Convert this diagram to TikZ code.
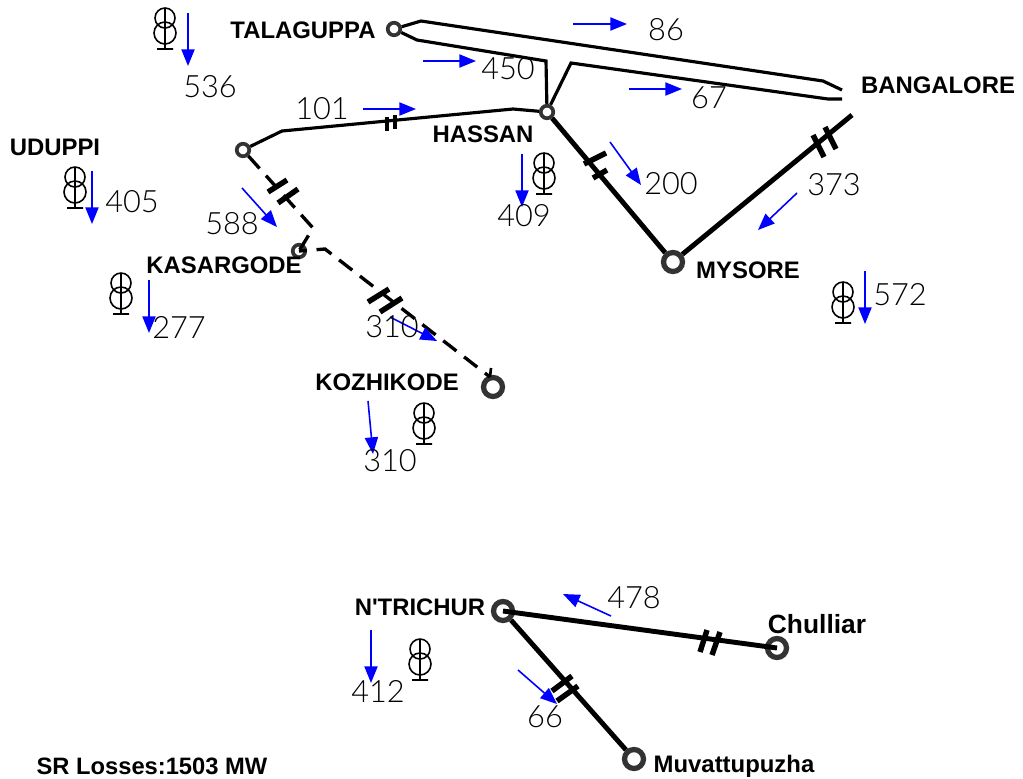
\documentclass[tikz,border=0pt]{standalone}
\usepackage{fontspec}
\setmainfont{Liberation Sans}
\newfontfamily\labfont{Liberation Sans}
\newfontfamily\numfont{Lato Light}
\usetikzlibrary{arrows.meta}
\tikzset{
  bus/.style={circle,inner sep=0pt,minimum size=.25cm,line width=2.1pt,draw=black!80,fill=white},
  bigbus/.style={bus,minimum size=.38cm,line width=3pt},
  line/.style={line width=1.8pt},
  heavy/.style={line width=2.8pt},
  dashline/.style={line width=1.9pt,dash pattern=on 9.5pt off 5.5pt},
  tick/.style={line width=3.1pt},
  flow/.style={blue,line width=.9pt,-{Triangle[length=9.5pt,width=7.5pt]}},
  lab/.style={font=\labfont\bfseries\fontsize{13.6}{15}\selectfont,inner sep=0pt},
  num/.style={font=\numfont\fontsize{17.5}{20}\selectfont,inner sep=0pt},
  xfmr/.pic={\draw[line width=.9pt](0,-41)--(0,0)(-8,0)--(8,0)(0,-16)circle[radius=11](0,-31)circle[radius=10];}
}
\begin{document}
\begin{tikzpicture}[x=.02cm,y=-.02cm]
\useasboundingbox(0,0)rectangle(1023,778);
% buses
\node[bus](talaguppa)at(394,29){};
\node[bus](hassan)at(547,112){};
\node[bus](uduppi)at(243,150){};
\node[bus](kasargode)at(299,251){};
\node[bigbus](mysore)at(673,262){};
\node[bigbus](kozhikode)at(493,387){};
\node[bigbus](trichur)at(503,611){};
\node[bigbus](chulliar)at(777,648){};
\node[bigbus](muvatt)at(634,759){};
\coordinate(bangtop)at(842,90);
\coordinate(banglow)at(842,99);
\coordinate(bangmys)at(852,115);
\coordinate(bendtop)at(313,228);
\coordinate(bendlow)at(325,249);
\coordinate(kozhiend)at(490,377);
% lines
\draw[line](talaguppa)--(421,21)--(823,81)--(bangtop);
\draw[line](talaguppa)--(417,40)--(546,61)--(hassan);
\draw[line](hassan)--(571,63)--(828,99)--(banglow);
\draw[line](hassan)--(513,109)--(282,131)--(uduppi);
\draw[heavy](hassan)--(mysore);
\draw[heavy](mysore)--(bangmys);
\draw[dashline](uduppi)--(bendtop)--(kasargode.center);
\draw[dashline,dash phase=5pt](kasargode.center)--(bendlow)--(kozhiend);
\draw[line width=1.5pt](kozhiend)--++(1,-9);
\draw[heavy](trichur.center)--(chulliar.center);
\draw[heavy](trichur)--(muvatt);
% double ticks
\foreach\a/\b in{387/117,395/115}{\draw[line width=2pt](\a,\b)--++(0,14);}
\foreach\a/\b/\c/\d in{584/164/606/153,593/178/607/170,813/135/824/157,825/127/836/149,
  268/192/287/180,278/203/298/189,368/302/389/289,380/312/402/298,
  700/652/707/630,712/655/720/632,552/691/572/676,557/701/578/686}{
\draw[tick](\a,\b)--(\c,\d);}
% flow arrows
\foreach\a/\b/\c/\d in{188/13/188/66,573/24/627/24,423/61/476/61,363/109/416/109,629/89/682/89,
  610/142/641/185,797/193/758/230,522/154/522/207,92/171/92/224,242/188/277/227,149/280/149/333,
  390/317/437/341,368/401/373/454,865/271/865/324,611/616/563/594,371/630/371/683,518/670/557/704}{
\draw[flow](\a,\b)--(\c,\d);}
% transformers
\foreach\a/\b in{165/49,75/208,121/314,424/444,544/194,843/323,420/680}{
\pic at(\a,\b){xfmr};}
% station names
\node[lab](talaname)at(303,30){TALAGUPPA};
\node[lab](hassname)at(483,134){HASSAN};
\node[lab](uduname)at(55,147){UDUPPI};
\node[lab](kasname)at(224,265){KASARGODE};
\node[lab](kozname)at(387,382){KOZHIKODE};
\node[lab](mysname)at(748,270){MYSORE};
\node[lab](bangname)at(938,85){BANGALORE};
\node[lab](triname)at(420,607){N'TRICHUR};
\node[lab,font=\labfont\bfseries\fontsize{15}{17}\selectfont](chuname)at(817,624){Chulliar};
\node[lab](muvname)at(734,766){Muvattupuzha};
\node[lab,font=\labfont\bfseries\fontsize{13.5}{16}\selectfont](losses)at(152,766){SR Losses:1503 MW};
% flow values
\foreach\a/\b/\t in{210/87/536,666/30/86,508/69/450,709/98/67,322/109/101,671/184/200,834/185/373,
  524/216/409,132/202/405,232/224/588,179/327/277,392/327/310,390/461/310,900/295/572,
  634/598/478,378/691/412,545/717/66}{
\node[num]at(\a,\b){\t};}
\end{tikzpicture}
\end{document}
